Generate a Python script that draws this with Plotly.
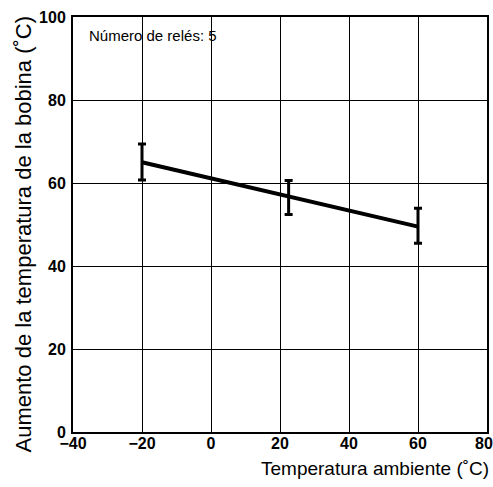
import plotly.graph_objects as go

temps = [-20, 22.5, 60]
rise = [65, 56.7, 49.5]
err_plus = [4.4, 3.9, 4.4]
err_minus = [4.3, 4.3, 4.0]
x_ticks = [-40, -20, 0, 20, 40, 60, 80]
x_tick_labels = ["\u221240", "\u221220", "0", "20", "40", "60", ""]
last_x_label = "80"
y_ticks = [0, 20, 40, 60, 80, 100]

W, H = 493, 487
ML, MR, MT, MB = 73, 6, 17, 55
pw = W - ML - MR
ph = H - MT - MB

fig = go.Figure()
fig.add_trace(go.Scatter(
    x=temps, y=rise, mode="lines",
    line=dict(color="black", width=4),
    error_y=dict(type="data", symmetric=False, array=err_plus, arrayminus=err_minus,
                 color="black", thickness=3, width=4),
    showlegend=False,
))

tickfont = dict(family="Liberation Sans, Arial, sans-serif", size=16, color="black", weight="bold")

fig.update_layout(
    width=W, height=H,
    margin=dict(l=ML, r=MR, t=MT, b=MB),
    paper_bgcolor="white", plot_bgcolor="white",
    font=dict(family="Liberation Sans, Arial, sans-serif", color="black"),
    xaxis=dict(range=[-40, 80], tickvals=x_ticks, ticktext=x_tick_labels,
               showgrid=True, gridcolor="black", gridwidth=1,
               showline=True, linecolor="black", linewidth=2, mirror=True,
               zeroline=False, ticks="", ticklen=0, automargin=False,
               ticklabeloverflow="allow", ticklabelstandoff=-4,
               tickfont=tickfont),
    yaxis=dict(range=[0, 100], tickvals=y_ticks,
               showgrid=True, gridcolor="black", gridwidth=1,
               showline=True, linecolor="black", linewidth=2, mirror=True,
               zeroline=False, ticks="", ticklen=0, automargin=False,
               ticklabeloverflow="allow", ticklabelstandoff=2,
               tickfont=tickfont),
    annotations=[
        dict(text=last_x_label, x=x_ticks[-1], xref="x", y=0, yref="paper",
             xanchor="center", yanchor="top", xshift=-3, yshift=-1, showarrow=False,
             font=tickfont),
        dict(text="Número de relés: 5", x=(87 - ML) / pw, y=(H - MB - 36) / ph,
             xref="paper", yref="paper",
             xanchor="left", yanchor="middle", showarrow=False,
             font=dict(size=15, family="Liberation Sans, Arial, sans-serif")),
        dict(text="Temperatura ambiente (\u02daC)",
             x=(491 - ML) / pw, y=(H - MB - 468) / ph, xref="paper", yref="paper",
             xanchor="right", yanchor="middle", showarrow=False,
             font=dict(size=19, family="Liberation Sans, Arial, sans-serif")),
        dict(text="Aumento de la temperatura de la bobina (\u02daC)", x=0, y=0.5,
             xref="paper", yref="paper", xshift=-50, yshift=-10,
             xanchor="center", yanchor="middle", textangle=-90, showarrow=False,
             font=dict(size=22, family="Liberation Sans, Arial, sans-serif")),
    ],
)

fig.write_html("out.html", config={"displayModeBar": False},
               post_script="document.body.style.margin='0';document.body.style.padding='0';")
